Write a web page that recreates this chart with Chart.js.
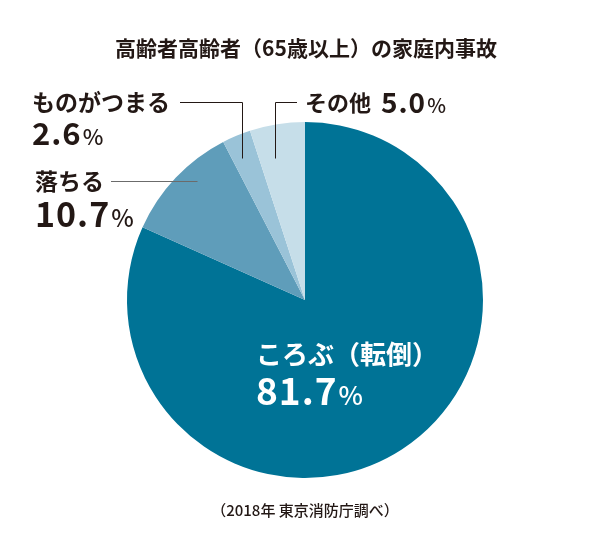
<!DOCTYPE html>
<html>
<head>
<meta charset="utf-8">
<script src="https://cdn.jsdelivr.net/npm/chart.js@4"></script>
<style>
  html, body { margin: 0; padding: 0; background: #ffffff; }
  #wrap { width: 602px; height: 547px; }
</style>
</head>
<body>
<div id="wrap"><canvas id="pieChart"></canvas></div>
<script>
// Data
const categories = ["ころぶ（転倒）", "落ちる", "ものがつまる", "その他"];
const shares = [81.7, 10.7, 2.6, 5.0];
const sliceColors = ["#007396", "#5f9dba", "#9ac3d8", "#c6dee9"];

const titleText = "高齢者高齢者（65歳以上）の家庭内事故";
const sourceText = "（2018年 東京消防庁調べ）";

const FONT = '"Noto Sans CJK JP", "Noto Sans", sans-serif';
const INK = "#231815";

// label layout: name (middle-aligned), value (baseline), optional leader line
const labelLayout = [
  { x: 256, nameY: 354, valueY: 405, color: "#ffffff", nameSize: 26, numSize: 37, pctSize: 26 },
  { x: 35, nameY: 181, valueY: 227, color: INK, nameSize: 23, numSize: 34, pctSize: 24,
    leader: { color: "#6b6b6b", pts: [[111, 181], [197, 181]] } },
  { x: 32, nameY: 102, valueY: 145, color: INK, nameSize: 23, numSize: 31, pctSize: 22,
    leader: { color: INK, pts: [[180, 102], [242, 102], [242, 158]] } },
  { x: 305, nameY: 103, inline: true, valueY: 113, color: INK, nameSize: 22, numSize: 28, pctSize: 20,
    leader: { color: INK, pts: [[297, 102], [275, 102], [275, 158]] } },
];

function drawValue(ctx, x, baseY, value, lay) {
  const num = value.toFixed(1);
  ctx.textBaseline = "alphabetic";
  ctx.letterSpacing = "1px";
  ctx.font = "600 " + lay.numSize + "px " + FONT;
  ctx.fillText(num, x, baseY);
  const w = ctx.measureText(num).width;
  ctx.letterSpacing = "0px";
  ctx.font = "500 " + lay.pctSize + "px " + FONT;
  ctx.fillText("%", x + w + 1, baseY);
  ctx.textBaseline = "middle";
}

const labelPlugin = {
  id: "labels",
  afterDraw(chart) {
    const ctx = chart.ctx;
    ctx.save();
    ctx.textBaseline = "middle";

    // title
    ctx.fillStyle = INK;
    ctx.textAlign = "center";
    ctx.font = "700 21px " + FONT;
    ctx.fillText(titleText, 306, 48);

    // source
    ctx.font = "500 15px " + FONT;
    ctx.fillText(sourceText, 305, 510);

    ctx.textAlign = "left";
    labelLayout.forEach((lay, i) => {
      if (lay.leader) {
        ctx.strokeStyle = lay.leader.color;
        ctx.lineWidth = 1;
        ctx.beginPath();
        lay.leader.pts.forEach((p, k) => {
          if (k === 0) ctx.moveTo(p[0], p[1] + 0.5);
          else ctx.lineTo(p[0] + 0.5, p[1] + 0.5);
        });
        ctx.stroke();
      }
      ctx.fillStyle = lay.color;
      ctx.font = "700 " + lay.nameSize + "px " + FONT;
      ctx.fillText(categories[i], lay.x, lay.nameY);
      if (lay.inline) {
        const w = ctx.measureText(categories[i]).width;
        drawValue(ctx, lay.x + w + 10, lay.valueY, shares[i], lay);
      } else {
        drawValue(ctx, lay.x, lay.valueY, shares[i], lay);
      }
    });
    ctx.restore();
  },
};

new Chart(document.getElementById("pieChart"), {
  type: "pie",
  data: {
    labels: categories,
    datasets: [
      {
        data: shares,
        backgroundColor: sliceColors,
        borderWidth: 0,
      },
    ],
  },
  options: {
    responsive: true,
    maintainAspectRatio: false,
    animation: false,
    layout: {
      padding: { top: 122, bottom: 69, left: 127, right: 119 },
    },
    plugins: {
      legend: { display: false },
      tooltip: { enabled: false },
    },
  },
  plugins: [labelPlugin],
});
</script>
</body>
</html>
